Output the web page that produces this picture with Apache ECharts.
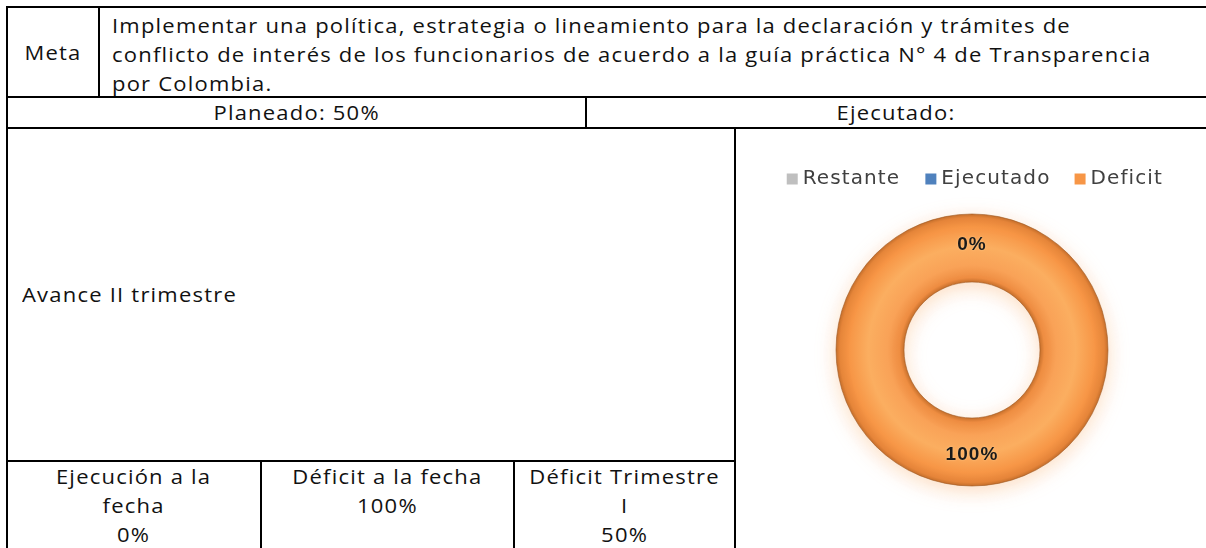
<!DOCTYPE html>
<html lang="es">
<head>
<meta charset="UTF-8">
<title>Avance II trimestre</title>
<style>
  html, body { margin:0; padding:0; background:#fff; }
  body { width:1206px; height:548px; position:relative; overflow:hidden;
         font-family:"Open Sans", sans-serif; font-size:20px; color:#111; letter-spacing:1.1px; }
  .ln { position:absolute; background:#000; }
  .tx { position:absolute; white-space:nowrap; line-height:29px; }
  .mid { display:flex; align-items:center; }
  .c { text-align:center; justify-content:center; }
  /* la fuente original es mas ancha: se estira un poco */
  .s { display:inline-block; transform:scaleX(1.1); transform-origin:50% 50%; }
  .l .s { transform-origin:0 50%; }
  #chart { position:absolute; left:736px; top:129px; width:470px; height:419px; }
</style>
</head>
<body>
<!-- lineas de la tabla -->
<div class="ln" style="left:6px;top:6px;width:1200px;height:2px"></div>
<div class="ln" style="left:6px;top:6px;width:2px;height:542px"></div>
<div class="ln" style="left:98px;top:7px;width:2px;height:90px"></div>
<div class="ln" style="left:6px;top:96px;width:1200px;height:2px"></div>
<div class="ln" style="left:585px;top:97px;width:2px;height:31px"></div>
<div class="ln" style="left:6px;top:127px;width:1200px;height:2px"></div>
<div class="ln" style="left:734px;top:128px;width:2px;height:420px"></div>
<div class="ln" style="left:6px;top:460px;width:730px;height:2px"></div>
<div class="ln" style="left:260px;top:461px;width:2px;height:87px"></div>
<div class="ln" style="left:513px;top:461px;width:2px;height:87px"></div>

<!-- textos -->
<div class="tx mid c" style="left:8px;top:8px;width:90px;height:88px"><span class="s">Meta</span></div>
<div class="tx l" style="left:112px;top:11px"><span class="s">Implementar una política, estrategia o lineamiento para la declaración y trámites de<br>conflicto de interés de los funcionarios de acuerdo a la guía práctica N° 4 de Transparencia<br>por Colombia.</span></div>
<div class="tx c" style="left:8px;top:98px;width:577px"><span class="s" id="tPlan"></span></div>
<div class="tx c" style="left:587px;top:98px;width:619px"><span class="s">Ejecutado:</span></div>
<div class="tx mid l" style="left:22px;top:129px;height:331px"><span class="s">Avance II trimestre</span></div>
<div class="tx c" style="left:8px;top:462px;width:252px"><span class="s" id="tEjec"></span></div>
<div class="tx c" style="left:262px;top:462px;width:251px"><span class="s" id="tDef"></span></div>
<div class="tx c" style="left:515px;top:462px;width:219px"><span class="s" id="tTrim"></span></div>

<div id="chart"></div>

<script src="https://cdn.jsdelivr.net/npm/echarts@6/dist/echarts.min.js"></script>
<script type="text/javascript">

//  valores de la tabla
var planeado = '50%';
var ejecucionFecha = '0%';
var deficitFecha = '100%';
var deficitTrimestre = '50%';

//  series del anillo
var pieNames = ['Restante', 'Ejecutado', 'Deficit'];
var pieValues = [0, 0, 100];
var pieColors = ['#BFBFBF', '#4F81BD', '#F79646'];

document.getElementById('tPlan').innerHTML = 'Planeado: ' + planeado;
document.getElementById('tEjec').innerHTML = 'Ejecución a la<br>fecha<br>' + ejecucionFecha;
document.getElementById('tDef').innerHTML = 'Déficit a la fecha<br>' + deficitFecha;
document.getElementById('tTrim').innerHTML = 'Déficit Trimestre<br>I<br>' + deficitTrimestre;

//  relleno con relieve para el anillo
function ringFill(base) {
  return {
    type: 'radial', x: 0.5, y: 0.5, r: 0.5,
    colorStops: [
      {offset: 0.5, color: '#C9722E'},
      {offset: 0.53, color: '#EE8D42'},
      {offset: 0.62, color: '#F9A257'},
      {offset: 0.76, color: '#FBAE60'},
      {offset: 0.9, color: base},
      {offset: 0.97, color: '#E5853A'},
      {offset: 1, color: '#C06B2A'}
    ]
  };
}

var pieData = [];
var legendData = [];
for (var i = 0; i < pieNames.length; i++) {
  pieData.push({
    name: pieNames[i],
    value: pieValues[i],
    itemStyle: {
      color: pieValues[i] > 0 ? ringFill(pieColors[i]) : pieColors[i],
      borderWidth: pieValues[i] > 0 ? 1 : 0,
      borderColor: 'rgba(160,90,35,0.6)'
    }
  });
  legendData.push({name: pieNames[i], itemStyle: {color: pieColors[i], borderWidth: 0}});
}

var myChart = echarts.init(document.getElementById('chart'));
var option = {
  animation: false,
  legend: {
    data: legendData,
    top: 35,
    left: 'center',
    icon: 'rect',
    itemWidth: 11,
    itemHeight: 11,
    itemGap: 34,
    selectedMode: false,
    textStyle: {fontFamily: 'DejaVu Sans', fontSize: 20, color: '#404040'}
  },
  series: [{
    type: 'pie',
    center: [236, 221],
    radius: [68, 136],
    startAngle: 90,
    clockwise: true,
    silent: true,
    data: pieData,
    label: {
      show: true,
      position: 'inside',
      formatter: '{d}%',
      fontFamily: 'Liberation Sans',
      fontWeight: 'bold',
      fontSize: 19,
      color: '#1A1A1A',
      textShadowColor: 'rgba(255,210,150,0.8)',
      textShadowBlur: 2
    },
    labelLine: {show: false},
    labelLayout: {hideOverlap: true},
    itemStyle: {
      shadowBlur: 20,
      shadowColor: 'rgba(247,150,70,0.32)',
      shadowOffsetY: 5
    },
    emphasis: {disabled: true}
  }]
};
myChart.setOption(option);
</script>
</body>
</html>
